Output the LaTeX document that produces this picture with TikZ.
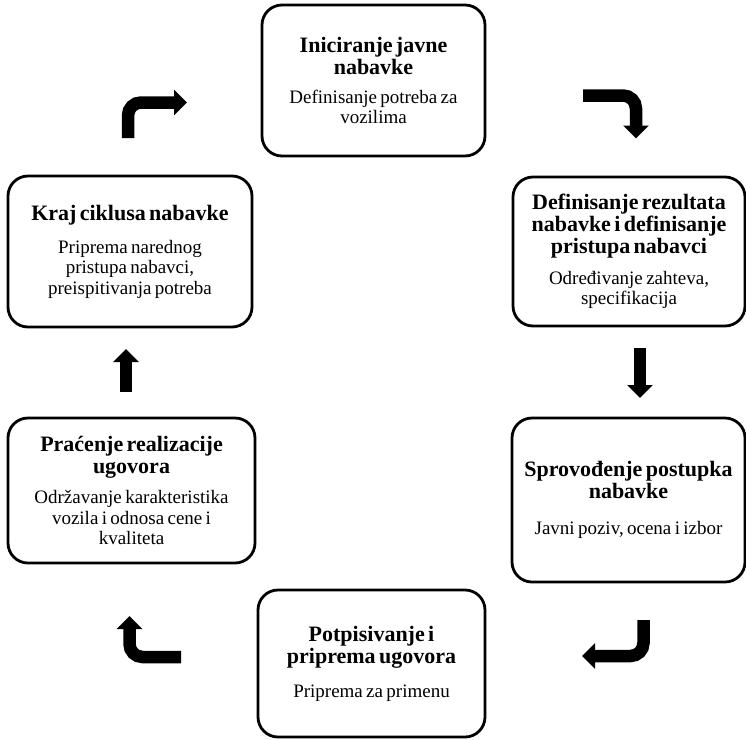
\documentclass[tikz,border=0pt]{standalone}
\usepackage{fontspec}
\setmainfont{Liberation Serif}
\usetikzlibrary{arrows.meta}
\newcommand\ttlfont{\fontsize{22}{22}\selectfont\bfseries}
\newcommand\bdyfont{\fontsize{19}{20.5}\selectfont\mdseries}
\newcommand\tbgap[1]{\par\vspace{#1}}
\tikzset{
  stage/.style={draw, line width=2.8pt, rounded corners=20pt, align=center, inner sep=0pt},
  flow/.style={line width=12.5pt, rounded corners=13pt, -{Triangle[length=13pt,width=25pt]}}
}
\begin{document}
\begin{tikzpicture}[x=1pt,y=-1pt]
\useasboundingbox (0,0) rectangle (746,739);

\node[stage, minimum width=223pt, minimum height=151pt, text width=215pt] (ini) at (373.5,80.5)
  {\ttlfont Iniciranje javne\\nabavke\tbgap{8.5pt}\bdyfont Definisanje potreba za\\vozilima\par};
\node[stage, minimum width=232pt, minimum height=149pt, text width=226pt] (def) at (629,251.5)
  {\ttlfont Definisanje rezultata\\nabavke i definisanje\\pristupa nabavci\tbgap{10pt}\bdyfont Određivanje zahteva,\\specifikacija\par};
\node[stage, minimum width=233pt, minimum height=164pt, text width=226pt] (spr) at (628.5,500)
  {\ttlfont Sprovođenje postupka\\nabavke\tbgap{16pt}\bdyfont Javni poziv, ocena i izbor\par};
\node[stage, minimum width=227pt, minimum height=147pt, text width=220pt] (pot) at (371.5,663.5)
  {\ttlfont Potpisivanje i\\priprema ugovora\tbgap{13.5pt}\bdyfont Priprema za primenu\par};
\node[stage, minimum width=247pt, minimum height=145pt, text width=240pt] (pra) at (131.5,490.5)
  {\ttlfont Praćenje realizacije\\ugovora\tbgap{9.5pt}\bdyfont Održavanje karakteristika\\vozila i odnosa cene i\\kvaliteta\par};
\node[stage, minimum width=244pt, minimum height=151pt, text width=238pt] (kra) at (130,251.5)
  {\ttlfont Kraj ciklusa nabavke\tbgap{12.5pt}\bdyfont Priprema narednog\\pristupa nabavci,\\preispitivanja potreba\par};

\coordinate (a1s) at (128,138);   \coordinate (a1t) at (187,102.5);
\coordinate (a2s) at (583,95.5);  \coordinate (a2t) at (636,138.5);
\coordinate (a3s) at (640,348);   \coordinate (a3t) at (640,398);
\coordinate (a4s) at (643.5,620); \coordinate (a4t) at (582,656);
\coordinate (a5s) at (181,657);   \coordinate (a5t) at (129.5,616);
\coordinate (a6s) at (126,392);   \coordinate (a6t) at (126,349);

\draw[flow] (a1s) |- (a1t);
\draw[flow] (a2s) -| (a2t);
\draw[flow] (a3s) -- (a3t);
\draw[flow] (a4s) |- (a4t);
\draw[flow] (a5s) -| (a5t);
\draw[flow] (a6s) -- (a6t);
\end{tikzpicture}
\end{document}
